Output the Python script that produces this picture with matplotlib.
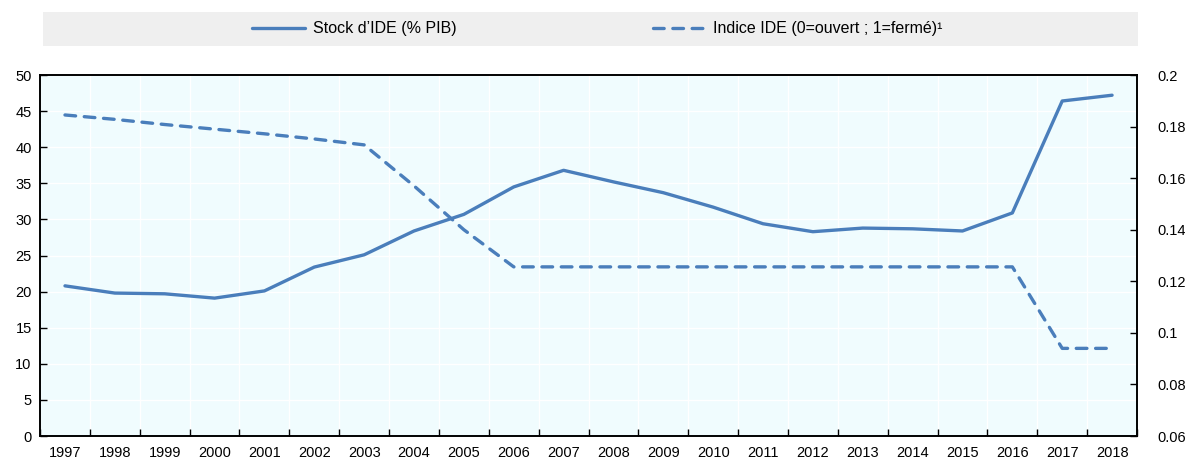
import matplotlib.pyplot as plt
from matplotlib.patches import Rectangle
import numpy as np

plt.rcParams.update({
    "font.family": ["Liberation Sans", "DejaVu Sans"],
    "font.size": 10.5,
})

years = [str(y) for y in range(1997, 2019)]
stock_ide = [20.8, 19.8, 19.7, 19.1, 20.1, 23.4, 25.1, 28.4, 30.7, 34.5, 36.8,
             35.2, 33.7, 31.7, 29.4, 28.3, 28.8, 28.7, 28.4, 30.9, 46.4, 47.2]
indice_ide = [0.1845, 0.1828, 0.1808, 0.1790, 0.1772, 0.1752, 0.1729, 0.1570,
              0.1400, 0.1256, 0.1256, 0.1256, 0.1256, 0.1256, 0.1256, 0.1256,
              0.1256, 0.1256, 0.1256, 0.1256, 0.0940, 0.0940]
left_ticks = list(range(0, 51, 5))
right_ticks = [0.06, 0.08, 0.1, 0.12, 0.14, 0.16, 0.18, 0.2]
right_labels = ["0.06", "0.08", "0.1", "0.12", "0.14", "0.16", "0.18", "0.2"]

blue = "#4A7EBB"

fig = plt.figure(figsize=(11.85, 4.59), dpi=100)
ax = fig.add_axes([0.0338, 0.050, 0.9257, 0.7866])
ax2 = ax.twinx()

x = np.arange(len(years))
l1, = ax.plot(x, stock_ide, color=blue, linewidth=2.4, solid_capstyle="round",
              label="Stock d\u2019IDE (% PIB)")
l2, = ax2.plot(x, indice_ide, color=blue, linewidth=2.4, linestyle=(0, (3.2, 2.6)),
               dash_capstyle="round", label="Indice IDE (0=ouvert ; 1=ferm\u00e9)\u00b9")

ax.set_facecolor("#F0FCFE")
ax.set_xlim(-0.5, len(years) - 0.5)
ax.set_ylim(0, 50)
ax.set_yticks(left_ticks)
ax2.set_ylim(0.06, 0.2)
ax2.set_yticks(right_ticks)
ax2.set_yticklabels(right_labels)

ax.set_xticks(x)
ax.set_xticklabels(years)
ax.set_xticks(np.arange(-0.5, len(years), 1), minor=True)
ax.tick_params(axis="x", which="major", length=0, pad=7)
ax.tick_params(axis="x", which="minor", direction="in", length=5, width=1)
ax.tick_params(axis="y", direction="in", length=5, width=1, pad=6)
ax2.tick_params(axis="y", direction="in", length=5, width=1, pad=15)

ax.grid(True, which="minor", axis="x", color="white", linewidth=1)
ax.grid(True, which="major", axis="y", color="white", linewidth=1)
ax.set_axisbelow(True)

for a in (ax, ax2):
    for s in a.spines.values():
        s.set_linewidth(1.2)
        s.set_color("black")

fig.patches.append(Rectangle((0.036, 0.900), 0.924, 0.074, transform=fig.transFigure,
                             facecolor="#EFEFEF", edgecolor="none", zorder=0))
fig.legend(handles=[l1, l2], loc="center", bbox_to_anchor=(0.504, 0.937), ncol=2,
           frameon=False, fontsize=11.5, handlelength=3.3, handletextpad=0.5,
           columnspacing=12.3)

fig.savefig("out.png", dpi=100)
